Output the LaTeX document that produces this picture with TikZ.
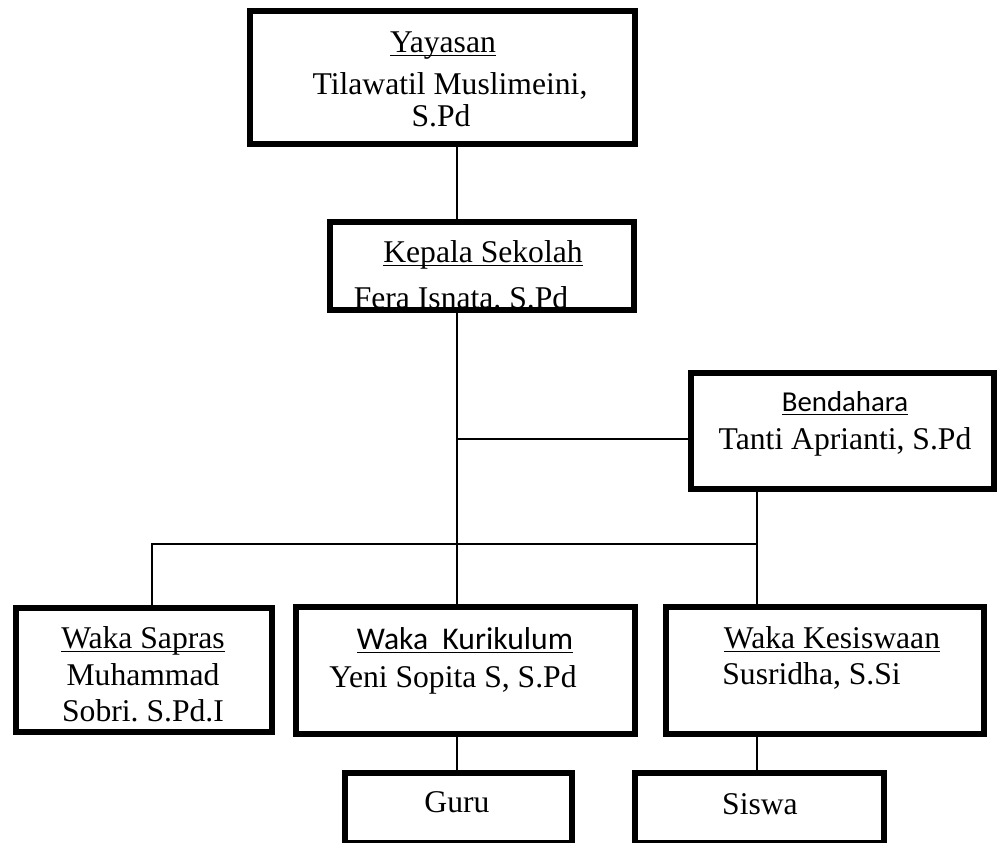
\documentclass[tikz,border=0pt]{standalone}
\usepackage{fontspec}
\setmainfont{Liberation Serif}
\newfontfamily\calibri{Carlito}
\frenchspacing

\begin{document}
\begin{tikzpicture}
   \tikzstyle{kotak}=[draw, line width=3.4pt, inner sep=0pt]
   \tikzstyle{teks}=[anchor=base, inner sep=0pt, font=\fontsize{18}{21}\selectfont]
   \tikzstyle{garis}=[line width=1pt]
   \useasboundingbox (0,0) rectangle (19.94,16.86);
   % isi kotak
   \node[teks] (yayasan1) at (8.86,15.80) {\underline{\smash{Yayasan}}};
   \node[teks] (yayasan2) at (9.00,14.96) {Tilawatil Muslimeini,};
   \node[teks] (yayasan3) at (8.82,14.32) {S.Pd};
   \node[teks] (kepsek1) at (9.66,11.60) {\underline{\smash{Kepala Sekolah}}};
   \node[teks] (kepsek2) at (9.22,10.68) {Fera Isnata. S.Pd};
   \node[teks] (bendahara1) at (16.90,8.62) {\calibri\fontsize{16.4}{20}\selectfont\underline{\smash{Bendahara}}};
   \node[teks] (bendahara2) at (16.90,7.86) {Tanti Aprianti, S.Pd};
   \node[teks] (sapras1) at (2.86,3.88) {\underline{\smash{Waka Sapras}}};
   \node[teks] (sapras2) at (2.86,3.14) {Muhammad};
   \node[teks] (sapras3) at (2.86,2.42) {Sobri. S.Pd.I};
   \node[teks] (kurikulum1) at (9.30,3.86) {\calibri\underline{\smash{Waka~~Kurikulum}}};
   \node[teks] (kurikulum2) at (9.06,3.10) {Yeni Sopita S, S.Pd};
   \node[teks] (kesiswaan1) at (16.64,3.88) {\underline{\smash{Waka Kesiswaan}}};
   \node[teks, anchor=base west] (kesiswaan2) at (14.44,3.16) {Susridha, S.Si};
   \node[teks] (guru1) at (9.14,0.60) {Guru};
   \node[teks] (siswa1) at (15.20,0.56) {Siswa};
   % kotak jabatan
   \node[kotak, minimum width=7.70cm, minimum height=2.66cm] (yayasan) at (8.85,15.31) {};
   \node[kotak, minimum width=6.08cm, minimum height=1.76cm] (kepsek) at (9.64,11.54) {};
   \node[kotak, minimum width=6.06cm, minimum height=2.32cm] (bendahara) at (16.85,8.24) {};
   \node[kotak, minimum width=5.12cm, minimum height=2.48cm] (sapras) at (2.88,3.46) {};
   \node[kotak, minimum width=6.78cm, minimum height=2.54cm] (kurikulum) at (9.31,3.45) {};
   \node[kotak, minimum width=6.36cm, minimum height=2.54cm] (kesiswaan) at (16.50,3.45) {};
   \node[kotak, minimum width=4.54cm, minimum height=1.40cm] (guru) at (9.17,0.70) {};
   \node[kotak, minimum width=4.98cm, minimum height=1.40cm] (siswa) at (15.19,0.70) {};
   % garis
   \coordinate (cabang) at (9.14,8.08);
   \coordinate (kiri) at (3.04,5.98);
   \coordinate (kanan) at (15.14,5.98);
   \draw[garis] (yayasan.south -| cabang) -- (kepsek.north -| cabang);
   \draw[garis] (kepsek.south -| cabang) -- (kurikulum.north -| cabang);
   \draw[garis] (cabang) -- (cabang -| bendahara.west);
   \draw[garis] (bendahara.south -| kanan) -- (kesiswaan.north -| kanan);
   \draw[garis] (sapras.north -| kiri) -- (kiri) -- (kanan);
   \draw[garis] (kurikulum.south -| cabang) -- (guru.north -| cabang);
   \draw[garis] (kesiswaan.south -| kanan) -- (siswa.north -| kanan);
\end{tikzpicture}
\end{document}
